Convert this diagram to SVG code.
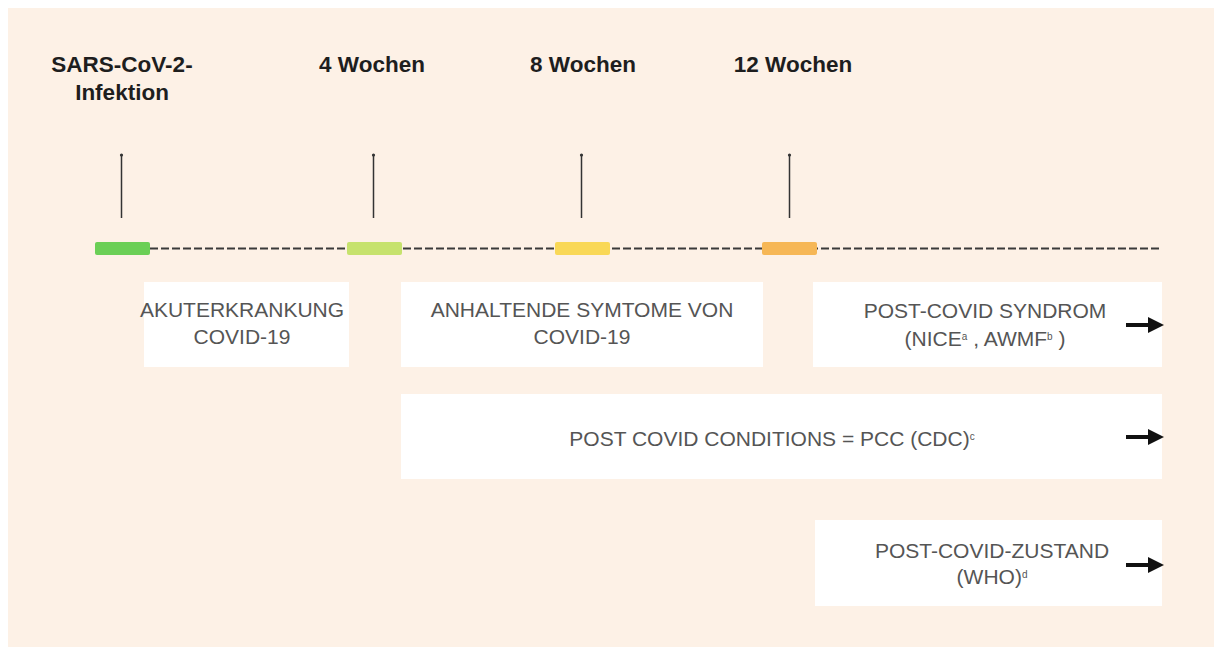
<svg xmlns="http://www.w3.org/2000/svg" width="1214" height="648" viewBox="0 0 1214 648">
<defs>
<style>
.head{font-family:"Liberation Sans",Arial,sans-serif;font-weight:bold;font-size:22.5px;fill:#1e1e1e;text-anchor:middle}
.lbl{font-family:"Liberation Sans",Arial,sans-serif;font-size:21px;fill:#555;text-anchor:middle}
.sup{font-size:10px}
.box{fill:#fff}
.tick{stroke:#333;stroke-width:1.5}
.dash{stroke:#3a3a3a;stroke-width:2;stroke-dasharray:8 3;fill:none}
.arr{stroke:#111;stroke-width:4;fill:none}
</style>
<marker id="ah" markerWidth="4" markerHeight="4" refX="1" refY="2" orient="auto" markerUnits="strokeWidth">
<path d="M0,0 L4,2 L0,4 z" fill="#111"/>
</marker>
</defs>
<rect x="0" y="0" width="1214" height="648" fill="#fff"/>
<rect x="8" y="8" width="1206" height="639" fill="#fdf1e6"/>

<g id="m0">
<text class="head" x="122" y="72">SARS-CoV-2-</text>
<text class="head" x="122" y="100">Infektion</text>
</g>
<g id="m4">
<text class="head" x="372" y="72">4 Wochen</text>
</g>
<g id="m8">
<text class="head" x="583" y="72">8 Wochen</text>
</g>
<g id="m12">
<text class="head" x="793" y="72">12 Wochen</text>
</g>

<g id="akut">
<rect class="box" x="144" y="282" width="205" height="85"/>
<text class="lbl" x="242" y="317">AKUTERKRANKUNG</text>
<text class="lbl" x="242" y="344">COVID-19</text>
</g>
<g id="anhaltend">
<rect class="box" x="401" y="282" width="362" height="85"/>
<text class="lbl" x="582" y="317">ANHALTENDE SYMTOME VON</text>
<text class="lbl" x="582" y="344">COVID-19</text>
</g>
<g id="postcovid">
<rect class="box" x="813" y="282" width="349" height="85"/>
<text class="lbl" x="985" y="318">POST-COVID SYNDROM</text>
<text class="lbl" x="985" y="346">(NICE<tspan class="sup" dy="-6">a</tspan><tspan dy="6"> , AWMF</tspan><tspan class="sup" dy="-6">b</tspan><tspan dy="6"> )</tspan></text>
</g>
<g id="pcc">
<rect class="box" x="401" y="394" width="761" height="85"/>
<text class="lbl" x="772" y="446">POST COVID CONDITIONS = PCC (CDC)<tspan class="sup" dy="-6">c</tspan></text>
</g>
<g id="who">
<rect class="box" x="815" y="520" width="347" height="86"/>
<text class="lbl" x="992" y="558">POST-COVID-ZUSTAND</text>
<text class="lbl" x="992" y="584">(WHO)<tspan class="sup" dy="-6">d</tspan></text>
</g>

<g id="connectors">
<line class="dash" x1="150" y1="248.5" x2="1162" y2="248.5"/>
<rect x="95" y="242" width="55" height="13" rx="2" fill="#6bcf56"/>
<rect x="347" y="242" width="55" height="13" rx="2" fill="#c6e26d"/>
<rect x="555" y="242" width="55" height="13" rx="2" fill="#f9d857"/>
<rect x="762" y="242" width="55" height="13" rx="2" fill="#f6b756"/>
<line class="tick" x1="121.5" y1="155" x2="121.5" y2="218"/><circle cx="121.5" cy="155" r="1.6" fill="#333"/>
<line class="tick" x1="373.5" y1="155" x2="373.5" y2="218"/><circle cx="373.5" cy="155" r="1.6" fill="#333"/>
<line class="tick" x1="581.5" y1="155" x2="581.5" y2="218"/><circle cx="581.5" cy="155" r="1.6" fill="#333"/>
<line class="tick" x1="789.5" y1="155" x2="789.5" y2="218"/><circle cx="789.5" cy="155" r="1.6" fill="#333"/>
<line class="arr" x1="1126" y1="325" x2="1152" y2="325" marker-end="url(#ah)"/>
<line class="arr" x1="1126" y1="437" x2="1152" y2="437" marker-end="url(#ah)"/>
<line class="arr" x1="1126" y1="565" x2="1152" y2="565" marker-end="url(#ah)"/>
</g>
</svg>
